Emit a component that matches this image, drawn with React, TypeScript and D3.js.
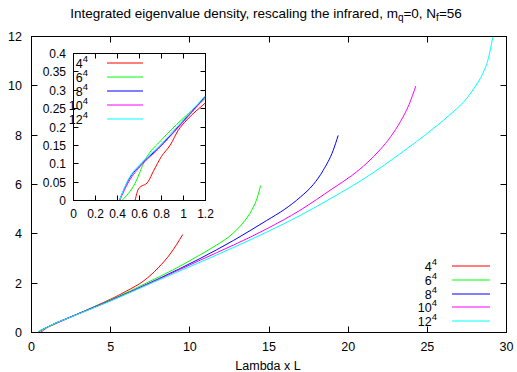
import React, { useEffect, useRef } from 'react'
import * as d3 from 'd3'

// lattice sizes and gnuplot default colours
const sizes = ['4', '6', '8', '10', '12']
const colors = ['#ff0000', '#00ff00', '#0000ff', '#ff00ff', '#00ffff']

// integrated eigenvalue density, x = Lambda x L
const x4 = [0.56, 0.59, 0.68, 0.725, 0.8, 0.88, 0.95, 1.03, 1.2, 2.5, 4, 5, 6, 7.1, 8.0, 8.8, 9.55]
const y4 = [0, 0.031, 0.052, 0.079, 0.12, 0.151, 0.19, 0.219, 0.266, 0.63, 1.06, 1.35, 1.68, 2.1, 2.62, 3.22, 3.97]
const x6 = [0.44, 0.56, 0.65, 0.8, 0.98, 1.2, 2.5, 5, 7.5, 9, 10.65, 11.7, 12.6, 13.3, 13.9, 14.25, 14.47]
const y6 = [0, 0.047, 0.11, 0.165, 0.219, 0.278, 0.64, 1.32, 2.08, 2.56, 3.15, 3.55, 3.95, 4.4, 4.95, 5.45, 5.96]
const x8 = [0.417, 0.5, 0.62, 0.77, 0.95, 1.2, 2.5, 5, 8, 10.65, 12.75, 14.85, 16, 17, 17.8, 18.42, 19.05, 19.37]
const y8 = [0, 0.056, 0.1, 0.142, 0.2, 0.284, 0.64, 1.3, 2.17, 3.0, 3.73, 4.54, 5.0, 5.5, 6.0, 6.57, 7.38, 7.99]
const x10 = [0.42, 0.5, 0.62, 0.77, 0.95, 1.2, 2.5, 5, 8, 10.65, 14.85, 16.95, 19.05, 20.2, 21.2, 22.0, 22.7, 23.3, 23.85, 24.27]
const y10 = [0, 0.05, 0.097, 0.14, 0.198, 0.282, 0.63, 1.29, 2.15, 2.93, 4.2, 4.95, 5.85, 6.35, 6.88, 7.4, 7.95, 8.55, 9.25, 9.99]
const x12 = [0.417, 0.5, 0.62, 0.77, 0.95, 1.2, 2.5, 5, 8, 10.65, 14.85, 16.95, 19.05, 21.16, 23.26, 25.36, 26.5, 27.5, 28.0, 28.5, 28.85, 29.13]
const y12 = [0, 0.058, 0.103, 0.145, 0.203, 0.286, 0.63, 1.28, 2.12, 2.85, 4.07, 4.74, 5.49, 6.3, 7.24, 8.26, 8.87, 9.5, 9.95, 10.5, 11.1, 11.97]

const xs = [x4, x6, x8, x10, x12]
const ys = [y4, y6, y8, y10, y12]

const xTicks = [0, 5, 10, 15, 20, 25, 30]
const yTicks = [0, 2, 4, 6, 8, 10, 12]
const insetXTicks = [0, 0.2, 0.4, 0.6, 0.8, 1, 1.2]
const insetYTicks = [0, 0.05, 0.1, 0.15, 0.2, 0.25, 0.3, 0.35, 0.4]

const font = 'Liberation Sans, Arial, Helvetica, sans-serif'

function App() {
  const svgRef = useRef<SVGSVGElement>(null)

  useEffect(() => {
    const svg = d3.select(svgRef.current)
    svg.selectAll('*').remove()
    svg.attr('width', 517).attr('height', 372).style('font-family', font)

    const series = xs.map((xx, i) => xx.map((v, j) => [v, ys[i][j]] as [number, number]))

    // ---- main plot
    const x = d3.scaleLinear().domain([0, 30]).range([31.5, 506.5])
    const y = d3.scaleLinear().domain([0, 12]).range([332.5, 36.5])

    const line = d3.line<[number, number]>()
      .x(d => x(d[0]))
      .y(d => y(d[1]))
      .curve(d3.curveMonotoneX)

    svg.append('g').selectAll('path').data(series).join('path')
      .attr('d', d => line(d))
      .attr('fill', 'none')
      .attr('stroke', (d, i) => colors[i])
      .attr('stroke-width', 1)

    const axes = svg.append('g').attr('stroke', '#000').attr('stroke-width', 1)
    xTicks.forEach(t => {
      const px = Math.round(x(t) - 0.5) + 0.5
      axes.append('line').attr('x1', px).attr('x2', px).attr('y1', 332.5).attr('y2', 326.5)
      axes.append('line').attr('x1', px).attr('x2', px).attr('y1', 36.5).attr('y2', 42.5)
    })
    yTicks.forEach(t => {
      const py = Math.round(y(t) - 0.5) + 0.5
      axes.append('line').attr('x1', 31.5).attr('x2', 37.5).attr('y1', py).attr('y2', py)
      axes.append('line').attr('x1', 506.5).attr('x2', 500.5).attr('y1', py).attr('y2', py)
    })
    axes.append('rect').attr('x', 31.5).attr('y', 36.5).attr('width', 475).attr('height', 296).attr('fill', 'none')

    svg.append('g').selectAll('text').data(xTicks).join('text')
      .attr('x', d => x(d)).attr('y', 351).attr('text-anchor', 'middle')
      .attr('font-size', 12.5).text(d => String(d))
    svg.append('g').selectAll('text').data(yTicks).join('text')
      .attr('x', 22).attr('y', d => y(d) + 4.5).attr('text-anchor', 'end')
      .attr('font-size', 12.5).text(d => String(d))

    svg.append('text').attr('x', 268).attr('y', 370).attr('text-anchor', 'middle')
      .attr('font-size', 12.5).text('Lambda x L')

    const title = svg.append('text').attr('x', 266).attr('y', 18).attr('text-anchor', 'middle').attr('font-size', 13.5)
    title.append('tspan').text('Integrated eigenvalue density, rescaling the infrared, m')
    title.append('tspan').attr('font-size', 10).attr('dy', 3).text('q')
    title.append('tspan').attr('dy', -3).text('=0, N')
    title.append('tspan').attr('font-size', 10).attr('dy', 3).text('f')
    title.append('tspan').attr('dy', -3).text('=56')

    // legend of main plot
    const legendY = d3.scaleLinear().domain([0, 4]).range([266, 321])
    sizes.forEach((s, i) => {
      const ly = Math.round(legendY(i))
      const t = svg.append('text').attr('x', 437).attr('y', ly + 5).attr('text-anchor', 'end').attr('font-size', 12.5)
      t.append('tspan').text(s)
      t.append('tspan').attr('font-size', 9.5).attr('dy', -6).text('4')
      svg.append('line').attr('x1', 452).attr('x2', 490).attr('y1', ly).attr('y2', ly)
        .attr('stroke', colors[i]).attr('stroke-width', 1.2)
    })

    // ---- inset
    const ix = d3.scaleLinear().domain([0, 1.2]).range([73.5, 205.5])
    const iy = d3.scaleLinear().domain([0, 0.4]).range([200.5, 53.5])

    svg.append('rect').attr('x', 73.5).attr('y', 53.5).attr('width', 132).attr('height', 147).attr('fill', '#fff')
    svg.append('clipPath').attr('id', 'insetClip')
      .append('rect').attr('x', 73.5).attr('y', 53.5).attr('width', 132).attr('height', 147)

    const iline = d3.line<[number, number]>()
      .x(d => ix(d[0]))
      .y(d => iy(d[1]))
      .curve(d3.curveMonotoneX)

    svg.append('g').attr('clip-path', 'url(#insetClip)')
      .selectAll('path').data(series.map(s => s.filter(p => p[0] <= 2.5))).join('path')
      .attr('d', d => iline(d))
      .attr('fill', 'none')
      .attr('stroke', (d, i) => colors[i])
      .attr('stroke-width', 1)

    const iaxes = svg.append('g').attr('stroke', '#000').attr('stroke-width', 1)
    insetXTicks.forEach(t => {
      const px = Math.round(ix(t) - 0.5) + 0.5
      iaxes.append('line').attr('x1', px).attr('x2', px).attr('y1', 200.5).attr('y2', 195.5)
      iaxes.append('line').attr('x1', px).attr('x2', px).attr('y1', 53.5).attr('y2', 58.5)
    })
    insetYTicks.forEach(t => {
      const py = Math.round(iy(t) - 0.5) + 0.5
      iaxes.append('line').attr('x1', 73.5).attr('x2', 78.5).attr('y1', py).attr('y2', py)
      iaxes.append('line').attr('x1', 205.5).attr('x2', 200.5).attr('y1', py).attr('y2', py)
    })
    iaxes.append('rect').attr('x', 73.5).attr('y', 53.5).attr('width', 132).attr('height', 147).attr('fill', 'none')

    svg.append('g').selectAll('text').data(insetXTicks).join('text')
      .attr('x', d => ix(d)).attr('y', 218).attr('text-anchor', 'middle')
      .attr('font-size', 12).text(d => String(d))
    svg.append('g').selectAll('text').data(insetYTicks).join('text')
      .attr('x', 66).attr('y', d => iy(d) + 4.5).attr('text-anchor', 'end')
      .attr('font-size', 12).text(d => String(d))

    // legend of inset
    const ilegendY = d3.scaleLinear().domain([0, 4]).range([63, 119])
    sizes.forEach((s, i) => {
      const ly = Math.round(ilegendY(i))
      const t = svg.append('text').attr('x', 88).attr('y', ly + 5).attr('text-anchor', 'end').attr('font-size', 12.5)
      t.append('tspan').text(s)
      t.append('tspan').attr('font-size', 9.5).attr('dy', -6).text('4')
      svg.append('line').attr('x1', 107).attr('x2', 143).attr('y1', ly).attr('y2', ly)
        .attr('stroke', colors[i]).attr('stroke-width', 1.2)
    })
  }, [])

  return (
    <svg ref={svgRef} style={{ position: 'absolute', left: 0, top: 0 }}></svg>
  )
}

export default App
